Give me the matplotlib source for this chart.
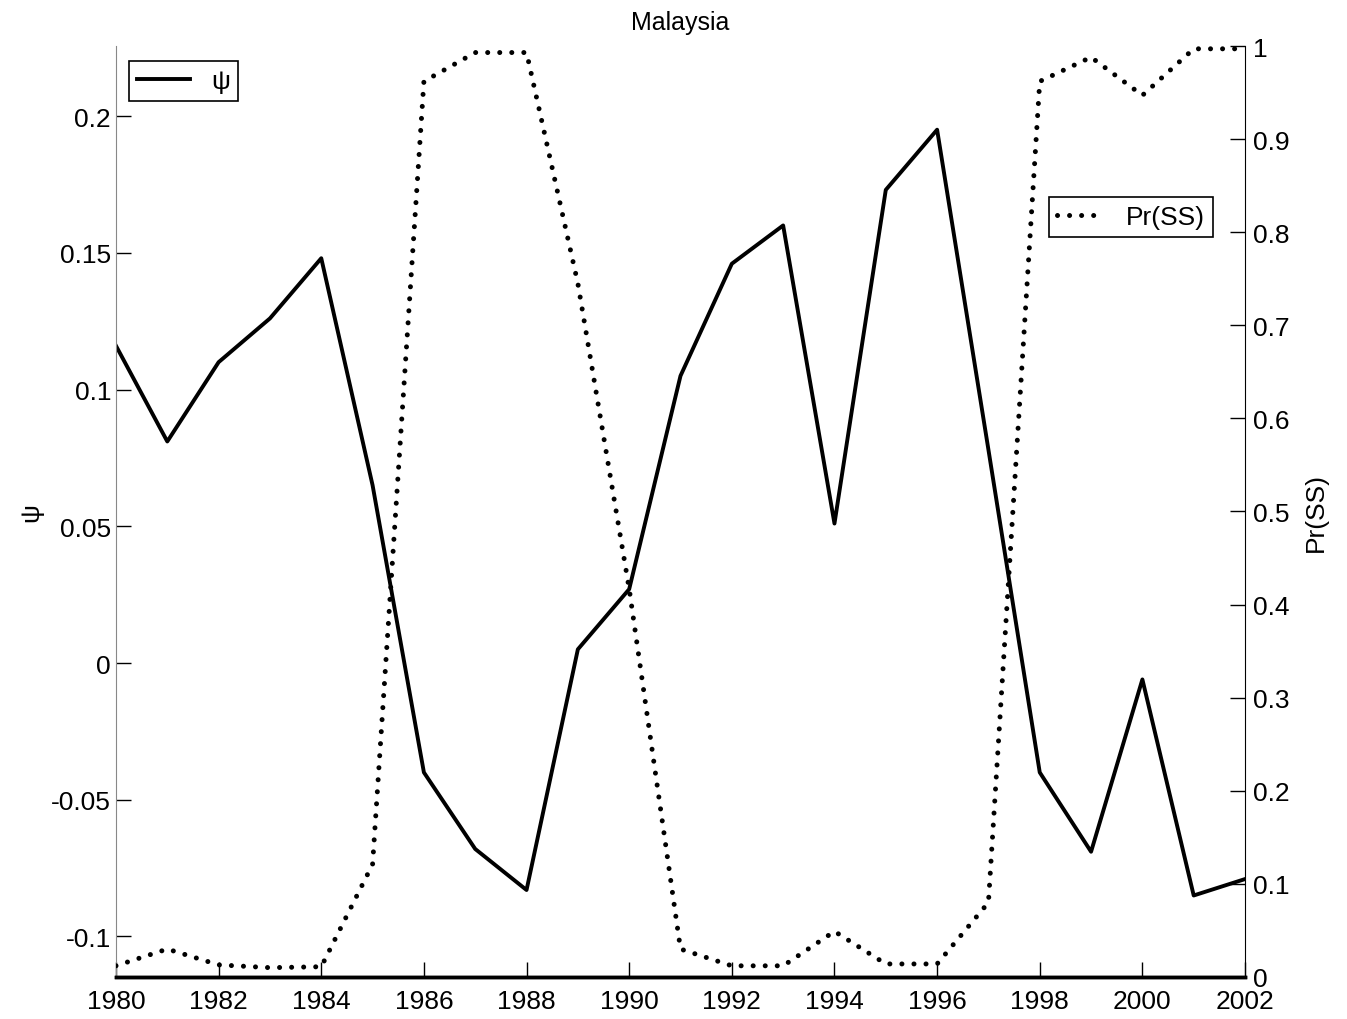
import numpy as np
import matplotlib.pyplot as plt

plt.rcParams['font.family'] = ['Liberation Sans', 'DejaVu Sans']

years = np.arange(1980, 2003)
psi = [0.116, 0.081, 0.110, 0.126, 0.148, 0.065, -0.040, -0.068, -0.083,
       0.005, 0.027, 0.105, 0.146, 0.160, 0.051, 0.173, 0.195, 0.078,
       -0.040, -0.069, -0.006, -0.085, -0.079]
pr_ss = [0.012, 0.030, 0.013, 0.010, 0.011, 0.121, 0.962, 0.993, 0.993,
         0.745, 0.417, 0.030, 0.012, 0.012, 0.049, 0.014, 0.014, 0.080,
         0.962, 0.988, 0.947, 0.997, 0.997]

fig = plt.figure(figsize=(13.47, 10.2), dpi=100)
ax = fig.add_axes([0.0861, 0.0412, 0.8382, 0.9127])
ax2 = ax.twinx()

l1, = ax.plot(years, psi, color='black', lw=2.8, label='ψ')
l2, = ax2.plot(years, pr_ss, color='black', lw=3.6, linestyle=(0, (0.01, 2.4)),
               dash_capstyle='round', label='Pr(SS)')

ax.set_xlim(1980, 2002)
ax.set_ylim(-0.1148, 0.2256)
ax2.set_ylim(0, 1)
ax.set_xticks(np.arange(1980, 2003, 2))
ax.set_yticks([-0.1, -0.05, 0, 0.05, 0.1, 0.15, 0.2])
ax.set_yticklabels(['-0.1', '-0.05', '0', '0.05', '0.1', '0.15', '0.2'])
ax2.set_yticks(np.arange(0, 1.01, 0.1))
ax2.set_yticklabels(['0'] + ['%.1f' % v for v in np.arange(0.1, 1.0, 0.1)] + ['1'])

for a in (ax, ax2):
    a.spines['top'].set_visible(False)
    a.tick_params(direction='in', length=11, width=1, labelsize=19)
ax.spines['left'].set_color('#888888')
ax.spines['right'].set_visible(False)
ax2.spines['left'].set_visible(False)
ax2.spines['bottom'].set_linewidth(2.5)
ax.spines['bottom'].set_linewidth(2.5)
ax.tick_params(axis='x', pad=9)
ax2.tick_params(axis='y', pad=6)

ax.set_ylabel('ψ', fontsize=19, labelpad=6)
ax2.set_ylabel('Pr(SS)', fontsize=19, labelpad=10)
ax.set_title('Malaysia', fontsize=18, pad=12)

leg1 = ax.legend(handles=[l1], loc='upper left', bbox_to_anchor=(0.0, 0.998),
                 fontsize=19, fancybox=False, edgecolor='black', handlelength=2.0,
                 borderpad=0.3, framealpha=1)
leg1.get_frame().set_linewidth(1.2)
leg2 = ax2.legend(handles=[l2], loc='upper right', bbox_to_anchor=(0.983, 0.852),
                  fontsize=19, fancybox=False, edgecolor='black', handlelength=1.8,
                  borderpad=0.3, framealpha=1)
leg2.get_frame().set_linewidth(1.2)

fig.savefig('out.png', dpi=100)
